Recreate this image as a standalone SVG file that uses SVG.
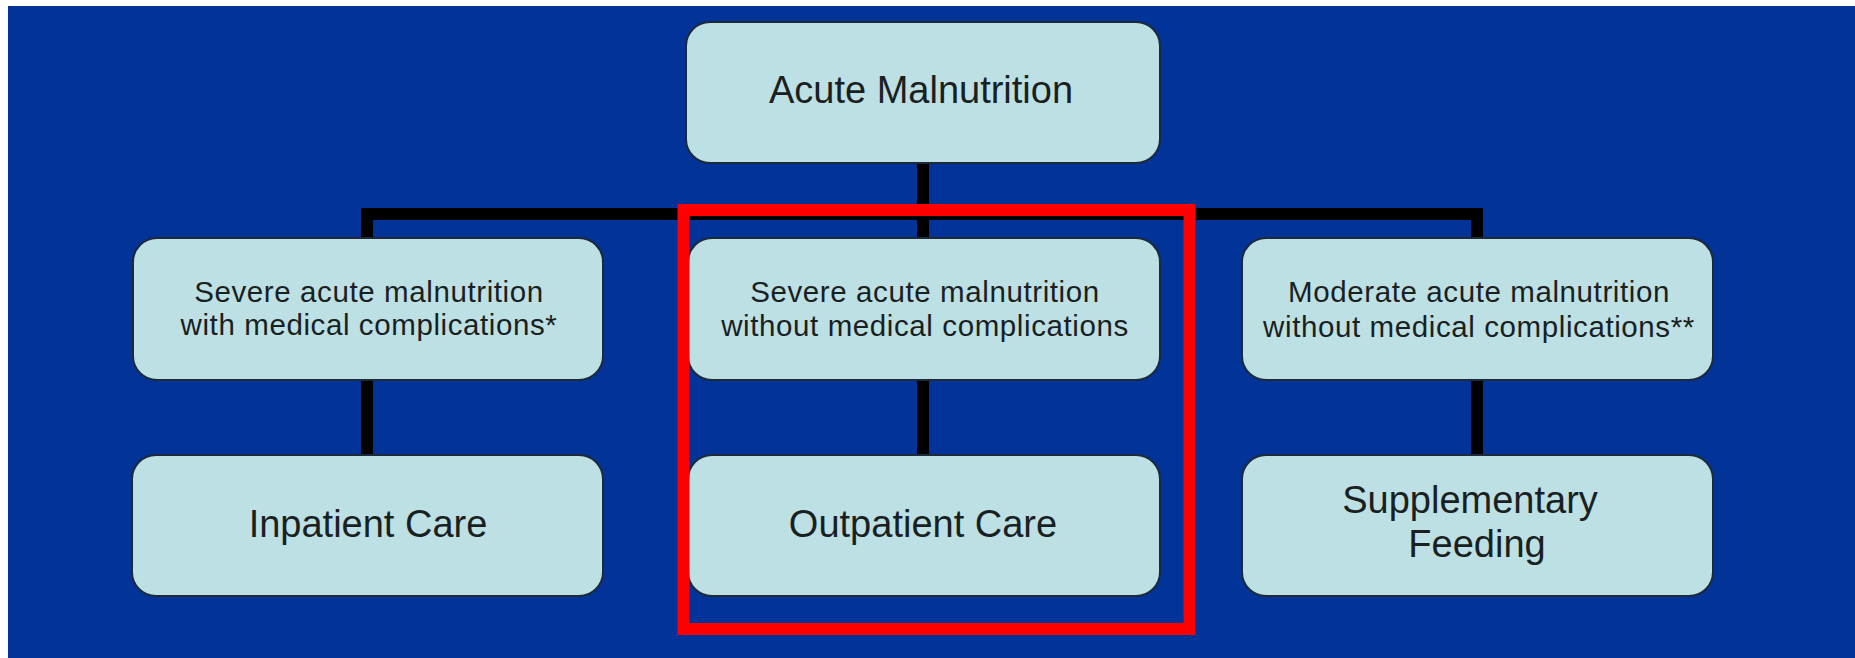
<svg xmlns="http://www.w3.org/2000/svg" width="1855" height="658" viewBox="0 0 1855 658">
  <style>
    .box { fill: #BDE0E4; stroke: #1C2A3A; stroke-width: 2; }
    .big { font-family: "Liberation Sans", Arial, sans-serif; font-size: 38px; fill: #1A1F22; text-anchor: middle; }
    .small { font-family: "Liberation Sans", Arial, sans-serif; font-size: 29.5px; letter-spacing: 0.6px; fill: #1A1F22; text-anchor: middle; }
    .conn { fill: none; stroke: #000000; stroke-width: 12; stroke-linejoin: miter; stroke-linecap: butt; }
  </style>
  <rect x="0" y="0" width="1855" height="658" fill="#FFFFFF"/>
  <rect x="8" y="6" width="1847" height="652" fill="#013399"/>

  <g id="connectors">
    <path class="conn" d="M923 163 V238"/>
    <path class="conn" d="M367 238 V214 H1477 V238"/>
    <path class="conn" d="M367 380 V455"/>
    <path class="conn" d="M923 380 V455"/>
    <path class="conn" d="M1477 380 V455"/>
  </g>

  <g id="node-acute">
    <rect class="box" x="686" y="22" width="474" height="141" rx="24"/>
    <text class="big" x="921" y="103">Acute Malnutrition</text>
  </g>

  <g id="node-sam-complications">
    <rect class="box" x="133" y="238" width="470" height="142" rx="24"/>
    <text class="small" x="369" y="302">Severe acute malnutrition</text>
    <text class="small" x="369" y="335">with medical complications*</text>
  </g>

  <g id="node-sam-no-complications">
    <rect class="box" x="688" y="238" width="472" height="142" rx="24"/>
    <text class="small" x="925" y="302">Severe acute malnutrition</text>
    <text class="small" x="925" y="336">without medical complications</text>
  </g>

  <g id="node-mam">
    <rect class="box" x="1242" y="238" width="471" height="142" rx="24"/>
    <text class="small" x="1479" y="302">Moderate acute malnutrition</text>
    <text class="small" x="1479" y="337">without medical complications**</text>
  </g>

  <g id="node-inpatient">
    <rect class="box" x="132" y="455" width="471" height="141" rx="24"/>
    <text class="big" x="368" y="537">Inpatient Care</text>
  </g>

  <g id="node-outpatient">
    <rect class="box" x="688" y="455" width="472" height="141" rx="24"/>
    <text class="big" x="923" y="537">Outpatient Care</text>
  </g>

  <g id="node-supplementary">
    <rect class="box" x="1242" y="455" width="471" height="141" rx="24"/>
    <text class="big" x="1470" y="513">Supplementary</text>
    <text class="big" x="1477" y="557">Feeding</text>
  </g>

  <g id="highlight">
    <rect x="683.5" y="210" width="506" height="419" fill="none" stroke="#FF0000" stroke-width="12"/>
  </g>
</svg>
